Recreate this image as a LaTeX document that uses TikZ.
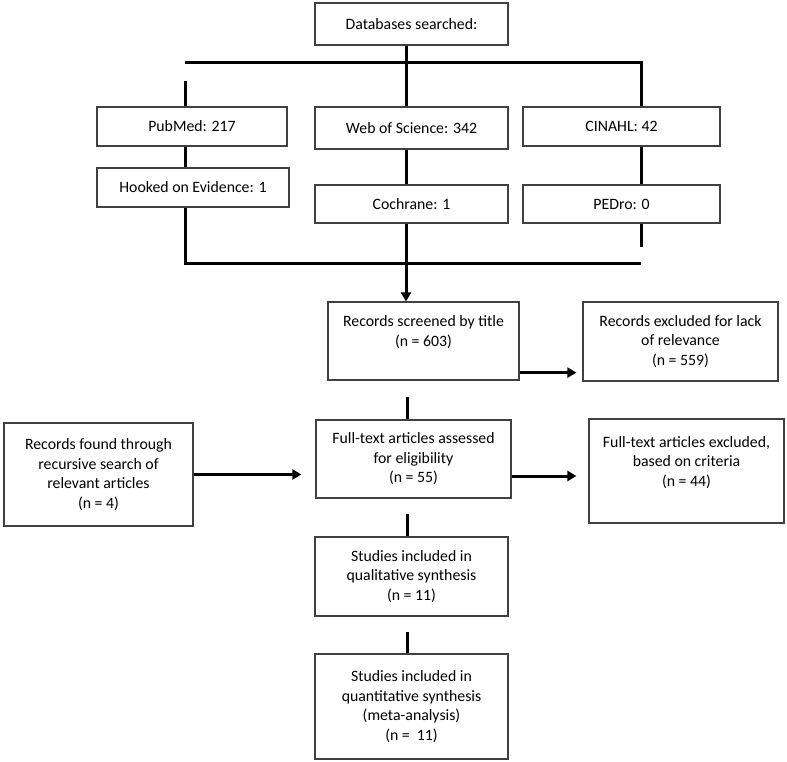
\documentclass[tikz,border=0pt]{standalone}
\usepackage{fontspec}
\setmainfont{Carlito}
\usetikzlibrary{arrows.meta}

\begin{document}
\begin{tikzpicture}[x=1pt,y=-1pt,
  box/.style={draw=black!75,line width=1.2pt,align=center,inner sep=0pt,
    font=\fontsize{15.8}{19.5}\selectfont},
  link/.style={line width=3pt},
  arr/.style={line width=3pt,-{Triangle[length=9pt,width=10pt]}}]
  \useasboundingbox (0,0) rectangle (787,762);
  \node[box,minimum width=193,minimum height=42] (db) at (411.5,24) {Databases searched:};
  \node[box,minimum width=190,minimum height=39] (pubmed) at (192,126.5) {PubMed: 217};
  \node[box,minimum width=193,minimum height=42] (wos) at (411.5,128) {Web of Science: 342};
  \node[box,minimum width=197,minimum height=39] (cinahl) at (621.5,126.5) {CINAHL: 42};
  \node[box,minimum width=192,minimum height=39] (hooked) at (193,187.5) {Hooked on Evidence: 1};
  \node[box,minimum width=193,minimum height=38] (cochrane) at (411.5,204) {Cochrane: 1};
  \node[box,minimum width=197,minimum height=38] (pedro) at (621.5,204) {PEDro: 0};
  \node[box,minimum width=191,minimum height=78] (screened) at (423.5,341) {Records screened by title\\(n = 603)\\~};
  \node[box,minimum width=195,minimum height=79] (exclrel) at (680.5,341.5) {Records excluded for lack\\of relevance\\(n = 559)};
  \node[box,minimum width=195,minimum height=78] (fulltext) at (413.5,459) {Full-text articles assessed\\for eligibility\\(n = 55)};
  \node[box,minimum width=189,minimum height=103] (found) at (98.5,474.5) {Records found through\\recursive search of\\relevant articles\\(n = 4)};
  \node[box,minimum width=195,minimum height=104] (exclft) at (686.5,471) {Full-text articles excluded,\\based on criteria\\(n = 44)\\~};
  \node[box,minimum width=193,minimum height=79] (qual) at (411.5,576.5) {Studies included in\\qualitative synthesis\\(n = 11)};
  \node[box,minimum width=193,minimum height=105] (quant) at (411.5,706.5) {Studies included in\\quantitative synthesis\\(meta-analysis)\\(n = \ 11)};
  \coordinate (tl) at (185,63);
  \coordinate (tm) at (406,63);
  \coordinate (tr) at (641,63);
  \coordinate (bl) at (185,263);
  \coordinate (bm) at (406,263);
  \coordinate (br) at (641,263);
  \coordinate (ls) at (185,81);
  \coordinate (rs) at (641,247);
  \coordinate (s1) at (407,397);
  \coordinate (s2) at (407,514);
  \coordinate (s3) at (407,632);
  \draw[link] (db.south -| tm) -- (tm);
  \draw[link] (tl) -- (tr) -- (tr |- cinahl.north);
  \draw[link] (tm) -- (tm |- wos.north);
  \draw[link] (ls) -- (ls |- pubmed.north);
  \draw[link] (pubmed.south -| tl) -- (hooked.north -| tl);
  \draw[link] (wos.south -| tm) -- (cochrane.north -| tm);
  \draw[link] (cinahl.south -| tr) -- (pedro.north -| tr);
  \draw[link] (pedro.south -| rs) -- (rs);
  \draw[link] (hooked.south -| bl) -- (bl) -- (br);
  \draw[arr] (cochrane.south -| bm) -- (screened.north -| bm);
  \draw[arr,shorten >=6pt] ([yshift=8pt]screened.south east) -- ([yshift=8pt]screened.south east -| exclrel.west);
  \draw[link] (s1) -- (s1 |- fulltext.north);
  \draw[arr,shorten >=14pt] (found.east) -- (found.east -| fulltext.west);
  \draw[arr,shorten >=12pt] ([yshift=-17pt]fulltext.east) -- ([yshift=-17pt]fulltext.east -| exclft.west);
  \draw[link] (s2) -- (s2 |- qual.north);
  \draw[link] (s3) -- (s3 |- quant.north);
\end{tikzpicture}
\end{document}
